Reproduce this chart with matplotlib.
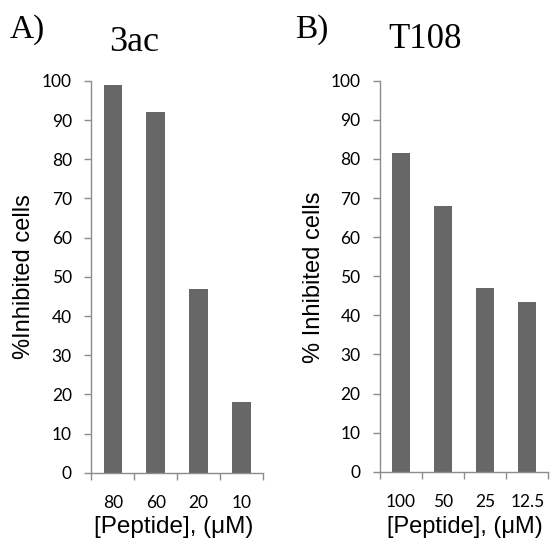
import matplotlib
matplotlib.use('Agg')
import matplotlib.pyplot as plt
import numpy as np

# data
cats_a = ['80', '60', '20', '10']
vals_a = [99, 92, 47, 18]
cats_b = ['100', '50', '25', '12.5']
vals_b = [81.5, 68, 47, 43.5]

bar_color = '#676767'
axis_color = '#8c8c8c'
tick_font = ['Lato', 'DejaVu Sans']
label_font = ['Liberation Sans', 'DejaVu Sans']
serif = ['Liberation Serif', 'DejaVu Serif']

fig = plt.figure(figsize=(5.5, 5.46), dpi=100)


def draw_panel(rect, cats, vals):
    ax = fig.add_axes(rect)
    x = np.arange(len(cats))
    ax.bar(x, vals, width=0.43, color=bar_color)
    ax.set_xlim(-0.5, len(cats) - 0.5)
    ax.set_ylim(0, 100)
    ax.set_yticks(range(0, 101, 10))
    ax.set_xticks(x)
    ax.set_xticklabels(cats, family=tick_font, fontsize=12.5)
    ax.set_xticks(np.arange(-0.5, len(cats)), minor=True)
    for lab in ax.get_yticklabels():
        lab.set_family(tick_font)
        lab.set_fontsize(12.5)
    ax.tick_params(axis='x', which='major', length=0, pad=16)
    ax.tick_params(axis='x', which='minor', length=5, color=axis_color, width=1)
    ax.tick_params(axis='y', length=5, color=axis_color, width=1, pad=9)
    for s in ['top', 'right']:
        ax.spines[s].set_visible(False)
    for s in ['left', 'bottom']:
        ax.spines[s].set_color(axis_color)
        ax.spines[s].set_linewidth(1)
    return ax


ax1 = draw_panel([0.166, 0.134, 0.312, 0.718], cats_a, vals_a)
ax2 = draw_panel([0.691, 0.136, 0.306, 0.716], cats_b, vals_b)

# y labels
fig.text(0.044, 0.493, '%Inhibited cells', family=label_font, fontsize=17,
         rotation=90, ha='center', va='center')
fig.text(0.571, 0.493, '% Inhibited cells', family=label_font, fontsize=17,
         rotation=90, ha='center', va='center')

# x labels
fig.text(0.316, 0.035, '[Peptide], (\u03bcM)', family=label_font, fontsize=17.5,
         ha='center', va='center')
fig.text(0.845, 0.035, '[Peptide], (\u03bcM)', family=label_font, fontsize=17,
         ha='center', va='center')

# panel letters and titles
fig.text(0.018, 0.945, 'A)', family=serif, fontsize=24, va='center')
fig.text(0.244, 0.923, '3ac', family=serif, fontsize=26, ha='center', va='center')
fig.text(0.536, 0.945, 'B)', family=serif, fontsize=24, va='center')
fig.text(0.773, 0.927, 'T108', family=serif, fontsize=25, ha='center', va='center')

fig.savefig('out.png', dpi=100)
